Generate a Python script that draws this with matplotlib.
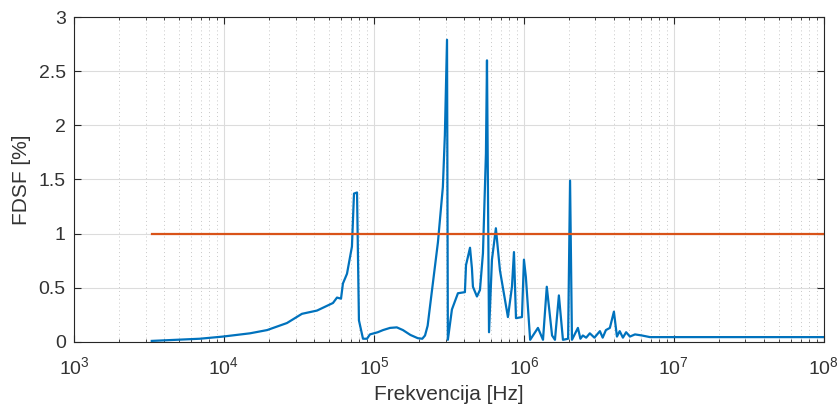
import numpy as np
import matplotlib.pyplot as plt
from matplotlib import rcParams
from matplotlib.ticker import LogLocator, NullFormatter

rcParams['font.family'] = ['Liberation Sans', 'DejaVu Sans']
rcParams['mathtext.fontset'] = 'custom'
rcParams['mathtext.rm'] = 'Liberation Sans'
rcParams['font.size'] = 11

# FDSF curve (frequency in Hz, FDSF in %)
freq = [3.3e3, 6.9e3, 9.85e3, 1.49e4, 1.94e4, 2.63e4, 3.31e4, 4.17e4, 5.33e4,
        5.67e4, 6.03e4, 6.21e4, 6.61e4, 7.13e4, 7.36e4, 7.71e4, 7.94e4, 8.45e4,
        8.99e4, 9.4e4, 1.06e5, 1.15e5, 1.28e5, 1.42e5, 1.56e5, 1.75e5, 1.96e5,
        2.1e5, 2.19e5, 2.28e5, 2.36e5, 2.67e5,
        2.88e5, 2.97e5, 3.07e5, 3.11e5, 3.31e5, 3.63e5, 4.04e5, 4.11e5, 4.37e5,
        4.5e5, 4.57e5, 4.86e5, 5.09e5, 5.33e5, 5.58e5, 5.67e5, 5.85e5, 6.12e5,
        6.5e5, 6.92e5, 7.82e5, 8.32e5, 8.58e5, 8.85e5, 9.7e5, 1.0e6, 1.03e6,
        1.1e6, 1.24e6, 1.34e6, 1.42e6, 1.54e6, 1.61e6, 1.71e6, 1.82e6, 1.97e6,
        2.03e6, 2.09e6, 2.29e6, 2.38e6, 2.47e6, 2.6e6, 2.75e6, 2.95e6, 3.21e6,
        3.35e6, 3.52e6, 3.74e6, 3.98e6, 4.17e6, 4.35e6, 4.57e6, 4.8e6, 5.09e6,
        5.5e6, 6.12e6, 6.92e6, 1.49e7, 1e8]
fdsf = [0.01, 0.03, 0.05, 0.08, 0.11, 0.175, 0.26, 0.29, 0.36,
        0.41, 0.40, 0.54, 0.63, 0.88, 1.37, 1.38, 0.20, 0.03,
        0.03, 0.07, 0.09, 0.11, 0.13, 0.135, 0.11, 0.065, 0.035,
        0.03, 0.06, 0.15, 0.32, 0.92,
        1.43, 1.91, 2.79, 0.02, 0.30, 0.45, 0.46, 0.71, 0.87,
        0.68, 0.51, 0.42, 0.48, 0.82, 1.74, 2.60, 0.09, 0.76,
        1.05, 0.66, 0.23, 0.51, 0.83, 0.22, 0.23, 0.76, 0.60,
        0.02, 0.13, 0.02, 0.51, 0.06, 0.02, 0.43, 0.02, 0.03,
        1.49, 0.02, 0.13, 0.03, 0.06, 0.04, 0.08, 0.04, 0.10,
        0.04, 0.11, 0.13, 0.28, 0.05, 0.10, 0.04, 0.09, 0.05,
        0.07, 0.06, 0.045, 0.045, 0.045]

limit_freq = [3.3e3, 1e8]
limit_val = [1, 1]

yticks = [0, 0.5, 1, 1.5, 2, 2.5, 3]
ytick_labels = ['0', '0.5', '1', '1.5', '2', '2.5', '3']

fig = plt.figure(figsize=(8.39, 4.08), dpi=100)
ax = fig.add_axes([0.0882, 0.1618, 0.8938, 0.7965])
ax.plot(freq, fdsf, color='#0072BD', linewidth=1.6)
ax.plot(limit_freq, limit_val, color='#D95319', linewidth=1.6)

ax.set_xscale('log')
ax.set_xlim(1e3, 1e8)
ax.set_ylim(0, 3)
ax.set_yticks(yticks)
ax.set_yticklabels(ytick_labels)
ax.xaxis.set_major_locator(LogLocator(base=10, numticks=10))
ax.xaxis.set_minor_locator(LogLocator(base=10, subs=np.arange(2, 10), numticks=20))
ax.xaxis.set_minor_formatter(NullFormatter())

ax.grid(True, which='major', color='#dcdcdc', linewidth=0.8)
ax.grid(True, which='minor', axis='x', color='#c8c8c8', linestyle=(0, (1, 3)), linewidth=0.7)
ax.set_axisbelow(True)
ax.tick_params(which='both', direction='in', top=True, right=True, colors='#262626',
               labelcolor='#333333', labelsize=14)
ax.tick_params(which='major', length=5)
ax.tick_params(which='minor', length=2.5)
ax.tick_params(axis='x', which='major', pad=10)
ax.tick_params(axis='y', which='major', pad=6)
for s in ax.spines.values():
    s.set_color('#262626')
    s.set_linewidth(0.8)

ax.set_xlabel('Frekvencija [Hz]', fontsize=15, color='#333333', labelpad=5)
ax.set_ylabel('FDSF [%]', fontsize=15, color='#333333')
ax.yaxis.set_label_coords(-0.058, 0.5)

fig.savefig('out.png', dpi=100)
